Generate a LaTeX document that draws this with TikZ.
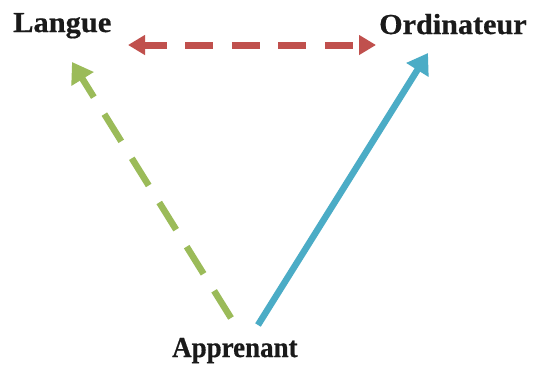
\documentclass[tikz,border=0pt]{standalone}
\usepackage{fontspec}
\setmainfont{Liberation Serif}
\newfontfamily\lblfont{Liberation Serif Bold}[FakeBold=0.6]
\usetikzlibrary{arrows.meta}
\definecolor{cred}{HTML}{C0504D}
\definecolor{cgreen}{HTML}{9BBB59}
\definecolor{cblue}{HTML}{4BACC6}
\definecolor{ctext}{HTML}{1A1A1A}
\begin{document}
\begin{tikzpicture}[x=1pt,y=-1pt,
  lbl/.style={font=\fontsize{29}{29}\selectfont\lblfont, text=ctext, inner sep=0pt, anchor=base west},
  bighead/.style={-{Triangle[length=20pt,width=25pt]}},
  conn/.style={line width=6.5pt}]
\useasboundingbox (0,0) rectangle (533,368);
\fill[white] (0,0) rectangle (533,368);
\node[lbl, xscale=1.05] (L) at (13,32) {Langue};
\node[lbl, xscale=1.04] (O) at (379,34) {Ordinateur};
\node[lbl, xscale=0.93] (A) at (172,357) {Apprenant};
\coordinate (lr) at (128,45);
\coordinate (or) at (376,45);
\coordinate (lg) at (72,62);
\coordinate (ag) at (231,318);
\coordinate (ob) at (428,53);
\coordinate (ab) at (258,325);
\draw[conn, line width=7pt, cred, dash pattern=on 28pt off 18.5pt, dash phase=5pt,
  {Triangle[length=17pt,width=19pt]}-{Triangle[length=17pt,width=19pt]}] (lr) -- (or);
\draw[conn, cgreen, bighead, dash pattern=on 32pt off 20pt] (ag) -- (lg);
\draw[conn, cblue, bighead] (ab) -- (ob);
\end{tikzpicture}
\end{document}
